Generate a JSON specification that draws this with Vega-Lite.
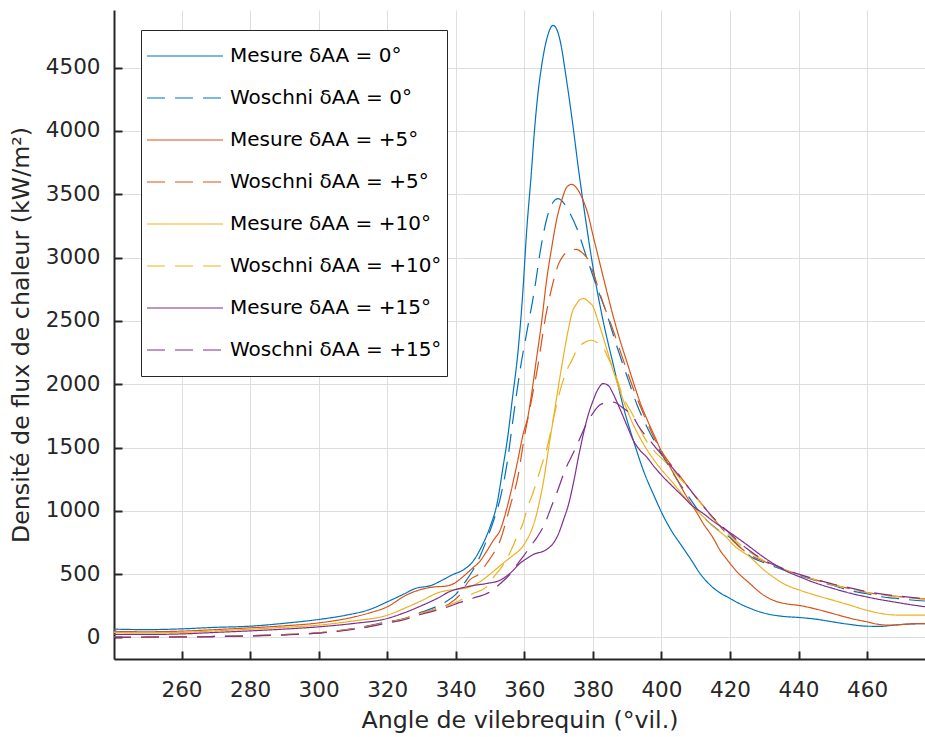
{
  "$schema": "https://vega.github.io/schema/vega-lite/v6.json",
  "autosize": {"type": "none"},
  "width": 811,
  "height": 649,
  "padding": {"left": 114, "top": 10, "right": 0, "bottom": 78},
  "background": "white",
  "config": {
    "view": {"stroke": null},
    "font": "DejaVu Sans",
    "legend": {"strokeWidth": 1}
  },
  "data": {
    "values": [
      {"serie":"M0","angle":240,"flux":66},{"serie":"M0","angle":250,"flux":62},{"serie":"M0","angle":260,"flux":68},{"serie":"M0","angle":270,"flux":80},{"serie":"M0","angle":280,"flux":89},{"serie":"M0","angle":290,"flux":112},{"serie":"M0","angle":300,"flux":142},{"serie":"M0","angle":308,"flux":176},{"serie":"M0","angle":315,"flux":222},{"serie":"M0","angle":320,"flux":281},{"serie":"M0","angle":325,"flux":345},{"serie":"M0","angle":328,"flux":385},{"serie":"M0","angle":333,"flux":413},{"serie":"M0","angle":336,"flux":452},{"serie":"M0","angle":339,"flux":495},{"serie":"M0","angle":342,"flux":531},{"serie":"M0","angle":345,"flux":600},{"serie":"M0","angle":347,"flux":689},{"serie":"M0","angle":350,"flux":873},{"serie":"M0","angle":352,"flux":1050},{"serie":"M0","angle":353.8,"flux":1347},{"serie":"M0","angle":355.3,"flux":1610},{"serie":"M0","angle":356.5,"flux":1880},{"serie":"M0","angle":358.2,"flux":2268},{"serie":"M0","angle":359.5,"flux":2700},{"serie":"M0","angle":360.7,"flux":3215},{"serie":"M0","angle":362,"flux":3650},{"serie":"M0","angle":362.9,"flux":3980},{"serie":"M0","angle":364,"flux":4300},{"serie":"M0","angle":365,"flux":4504},{"serie":"M0","angle":366.5,"flux":4720},{"serie":"M0","angle":368.4,"flux":4833},{"serie":"M0","angle":369.5,"flux":4800},{"serie":"M0","angle":370.7,"flux":4680},{"serie":"M0","angle":372,"flux":4460},{"serie":"M0","angle":374,"flux":4080},{"serie":"M0","angle":376,"flux":3660},{"serie":"M0","angle":378,"flux":3280},{"serie":"M0","angle":380,"flux":2930},{"serie":"M0","angle":383,"flux":2500},{"serie":"M0","angle":386,"flux":2150},{"serie":"M0","angle":389,"flux":1810},{"serie":"M0","angle":392,"flux":1540},{"serie":"M0","angle":395,"flux":1300},{"serie":"M0","angle":398,"flux":1110},{"serie":"M0","angle":400,"flux":990},{"serie":"M0","angle":403,"flux":840},{"serie":"M0","angle":406,"flux":720},{"serie":"M0","angle":409,"flux":600},{"serie":"M0","angle":411,"flux":515},{"serie":"M0","angle":415,"flux":395},{"serie":"M0","angle":420,"flux":308},{"serie":"M0","angle":425,"flux":240},{"serie":"M0","angle":430,"flux":192},{"serie":"M0","angle":435,"flux":168},{"serie":"M0","angle":440,"flux":158},{"serie":"M0","angle":445,"flux":145},{"serie":"M0","angle":450,"flux":123},{"serie":"M0","angle":455,"flux":103},{"serie":"M0","angle":460,"flux":89},{"serie":"M0","angle":464,"flux":88},{"serie":"M0","angle":468,"flux":98},{"serie":"M0","angle":472,"flux":106},{"serie":"M0","angle":477,"flux":110},

      {"serie":"W0","angle":240,"flux":0},{"serie":"W0","angle":250,"flux":2},{"serie":"W0","angle":260,"flux":5},{"serie":"W0","angle":270,"flux":8},{"serie":"W0","angle":280,"flux":13},{"serie":"W0","angle":290,"flux":22},{"serie":"W0","angle":300,"flux":37},{"serie":"W0","angle":310,"flux":70},{"serie":"W0","angle":320,"flux":123},{"serie":"W0","angle":325,"flux":150},{"serie":"W0","angle":330,"flux":200},{"serie":"W0","angle":334,"flux":240},{"serie":"W0","angle":337,"flux":280},{"serie":"W0","angle":340,"flux":340},{"serie":"W0","angle":342.7,"flux":437},{"serie":"W0","angle":345,"flux":531},{"serie":"W0","angle":347,"flux":636},{"serie":"W0","angle":349,"flux":768},{"serie":"W0","angle":351,"flux":920},{"serie":"W0","angle":353,"flux":1100},{"serie":"W0","angle":355,"flux":1380},{"serie":"W0","angle":357,"flux":1780},{"serie":"W0","angle":359,"flux":2150},{"serie":"W0","angle":361,"flux":2450},{"serie":"W0","angle":363,"flux":2750},{"serie":"W0","angle":364.6,"flux":3040},{"serie":"W0","angle":367,"flux":3350},{"serie":"W0","angle":368.4,"flux":3437},{"serie":"W0","angle":369.8,"flux":3465},{"serie":"W0","angle":371.8,"flux":3420},{"serie":"W0","angle":373.5,"flux":3340},{"serie":"W0","angle":375.2,"flux":3240},{"serie":"W0","angle":378.2,"flux":3000},{"serie":"W0","angle":381,"flux":2780},{"serie":"W0","angle":384,"flux":2560},{"serie":"W0","angle":387,"flux":2300},{"serie":"W0","angle":390,"flux":2060},{"serie":"W0","angle":393,"flux":1830},{"serie":"W0","angle":396,"flux":1650},{"serie":"W0","angle":399,"flux":1500},{"serie":"W0","angle":402,"flux":1360},{"serie":"W0","angle":405,"flux":1230},{"serie":"W0","angle":408,"flux":1110},{"serie":"W0","angle":412,"flux":960},{"serie":"W0","angle":416,"flux":860},{"serie":"W0","angle":420,"flux":790},{"serie":"W0","angle":426,"flux":640},{"serie":"W0","angle":430,"flux":590},{"serie":"W0","angle":435,"flux":540},{"serie":"W0","angle":440,"flux":492},{"serie":"W0","angle":445,"flux":450},{"serie":"W0","angle":450,"flux":412},{"serie":"W0","angle":455,"flux":370},{"serie":"W0","angle":460,"flux":345},{"serie":"W0","angle":464,"flux":322},{"serie":"W0","angle":468,"flux":310},{"serie":"W0","angle":473,"flux":296},{"serie":"W0","angle":477,"flux":288},

      {"serie":"M5","angle":240,"flux":48},{"serie":"M5","angle":250,"flux":45},{"serie":"M5","angle":260,"flux":50},{"serie":"M5","angle":270,"flux":62},{"serie":"M5","angle":280,"flux":76},{"serie":"M5","angle":290,"flux":92},{"serie":"M5","angle":300,"flux":115},{"serie":"M5","angle":310,"flux":160},{"serie":"M5","angle":315,"flux":195},{"serie":"M5","angle":320,"flux":242},{"serie":"M5","angle":325.5,"flux":334},{"serie":"M5","angle":330,"flux":380},{"serie":"M5","angle":334,"flux":400},{"serie":"M5","angle":337,"flux":405},{"serie":"M5","angle":340,"flux":435},{"serie":"M5","angle":342,"flux":478},{"serie":"M5","angle":345,"flux":550},{"serie":"M5","angle":347,"flux":600},{"serie":"M5","angle":349,"flux":680},{"serie":"M5","angle":351,"flux":768},{"serie":"M5","angle":353,"flux":850},{"serie":"M5","angle":355,"flux":1030},{"serie":"M5","angle":357.8,"flux":1360},{"serie":"M5","angle":359.7,"flux":1610},{"serie":"M5","angle":361.1,"flux":1750},{"serie":"M5","angle":362,"flux":1900},{"serie":"M5","angle":363.5,"flux":2190},{"serie":"M5","angle":365,"flux":2480},{"serie":"M5","angle":366.5,"flux":2820},{"serie":"M5","angle":368,"flux":3080},{"serie":"M5","angle":369.4,"flux":3294},{"serie":"M5","angle":371,"flux":3460},{"serie":"M5","angle":372.5,"flux":3560},{"serie":"M5","angle":373.8,"flux":3578},{"serie":"M5","angle":375.5,"flux":3540},{"serie":"M5","angle":377.2,"flux":3450},{"serie":"M5","angle":378.6,"flux":3340},{"serie":"M5","angle":380,"flux":3180},{"serie":"M5","angle":382,"flux":2960},{"serie":"M5","angle":384,"flux":2740},{"serie":"M5","angle":386,"flux":2530},{"serie":"M5","angle":388,"flux":2340},{"serie":"M5","angle":390,"flux":2170},{"serie":"M5","angle":392,"flux":2000},{"serie":"M5","angle":394,"flux":1840},{"serie":"M5","angle":396,"flux":1710},{"serie":"M5","angle":398,"flux":1590},{"serie":"M5","angle":400,"flux":1470},{"serie":"M5","angle":402.5,"flux":1347},{"serie":"M5","angle":405,"flux":1225},{"serie":"M5","angle":407.4,"flux":1110},{"serie":"M5","angle":410,"flux":1000},{"serie":"M5","angle":412.2,"flux":900},{"serie":"M5","angle":415,"flux":790},{"serie":"M5","angle":417.1,"flux":689},{"serie":"M5","angle":419,"flux":620},{"serie":"M5","angle":422,"flux":520},{"serie":"M5","angle":425.8,"flux":426},{"serie":"M5","angle":429,"flux":350},{"serie":"M5","angle":432.6,"flux":294},{"serie":"M5","angle":436,"flux":268},{"serie":"M5","angle":440.4,"flux":252},{"serie":"M5","angle":445,"flux":225},{"serie":"M5","angle":450,"flux":189},{"serie":"M5","angle":455,"flux":152},{"serie":"M5","angle":460,"flux":123},{"serie":"M5","angle":463,"flux":105},{"serie":"M5","angle":466.7,"flux":97},{"serie":"M5","angle":470,"flux":102},{"serie":"M5","angle":473,"flux":107},{"serie":"M5","angle":477,"flux":110},

      {"serie":"W5","angle":240,"flux":0},{"serie":"W5","angle":250,"flux":2},{"serie":"W5","angle":260,"flux":5},{"serie":"W5","angle":270,"flux":8},{"serie":"W5","angle":280,"flux":13},{"serie":"W5","angle":290,"flux":22},{"serie":"W5","angle":300,"flux":37},{"serie":"W5","angle":310,"flux":68},{"serie":"W5","angle":320,"flux":120},{"serie":"W5","angle":325,"flux":148},{"serie":"W5","angle":330,"flux":195},{"serie":"W5","angle":334,"flux":225},{"serie":"W5","angle":338,"flux":265},{"serie":"W5","angle":341,"flux":330},{"serie":"W5","angle":344,"flux":453},{"serie":"W5","angle":347,"flux":507},{"serie":"W5","angle":349,"flux":584},{"serie":"W5","angle":351,"flux":663},{"serie":"W5","angle":353,"flux":768},{"serie":"W5","angle":354.5,"flux":900},{"serie":"W5","angle":356,"flux":1050},{"serie":"W5","angle":358,"flux":1250},{"serie":"W5","angle":360,"flux":1580},{"serie":"W5","angle":362,"flux":1860},{"serie":"W5","angle":364,"flux":2150},{"serie":"W5","angle":366,"flux":2500},{"serie":"W5","angle":368,"flux":2760},{"serie":"W5","angle":370,"flux":2950},{"serie":"W5","angle":371.5,"flux":3020},{"serie":"W5","angle":373,"flux":3055},{"serie":"W5","angle":375.3,"flux":3065},{"serie":"W5","angle":377,"flux":3035},{"serie":"W5","angle":378.5,"flux":2990},{"serie":"W5","angle":380.1,"flux":2880},{"serie":"W5","angle":383,"flux":2640},{"serie":"W5","angle":386,"flux":2420},{"serie":"W5","angle":389,"flux":2180},{"serie":"W5","angle":392,"flux":1950},{"serie":"W5","angle":395,"flux":1750},{"serie":"W5","angle":398,"flux":1570},{"serie":"W5","angle":401,"flux":1430},{"serie":"W5","angle":405,"flux":1290},{"serie":"W5","angle":408,"flux":1180},{"serie":"W5","angle":411,"flux":1080},{"serie":"W5","angle":414,"flux":980},{"serie":"W5","angle":418,"flux":850},{"serie":"W5","angle":421,"flux":760},{"serie":"W5","angle":426,"flux":650},{"serie":"W5","angle":430,"flux":600},{"serie":"W5","angle":435,"flux":545},{"serie":"W5","angle":440,"flux":498},{"serie":"W5","angle":445,"flux":455},{"serie":"W5","angle":450,"flux":418},{"serie":"W5","angle":455,"flux":385},{"serie":"W5","angle":460,"flux":355},{"serie":"W5","angle":465,"flux":335},{"serie":"W5","angle":470,"flux":320},{"serie":"W5","angle":477,"flux":305},

      {"serie":"M10","angle":240,"flux":40},{"serie":"M10","angle":250,"flux":38},{"serie":"M10","angle":260,"flux":40},{"serie":"M10","angle":270,"flux":52},{"serie":"M10","angle":280,"flux":65},{"serie":"M10","angle":290,"flux":80},{"serie":"M10","angle":300,"flux":97},{"serie":"M10","angle":310,"flux":130},{"serie":"M10","angle":320,"flux":176},{"serie":"M10","angle":325,"flux":230},{"serie":"M10","angle":330,"flux":290},{"serie":"M10","angle":335,"flux":355},{"serie":"M10","angle":340,"flux":380},{"serie":"M10","angle":343,"flux":390},{"serie":"M10","angle":347,"flux":439},{"serie":"M10","angle":350,"flux":500},{"serie":"M10","angle":352,"flux":545},{"serie":"M10","angle":354,"flux":590},{"serie":"M10","angle":356.8,"flux":650},{"serie":"M10","angle":359,"flux":700},{"serie":"M10","angle":360.7,"flux":768},{"serie":"M10","angle":362,"flux":840},{"serie":"M10","angle":363.1,"flux":926},{"serie":"M10","angle":364.5,"flux":1080},{"serie":"M10","angle":365.5,"flux":1216},{"serie":"M10","angle":367,"flux":1478},{"serie":"M10","angle":368.4,"flux":1715},{"serie":"M10","angle":370.4,"flux":2057},{"serie":"M10","angle":372.8,"flux":2425},{"serie":"M10","angle":374,"flux":2570},{"serie":"M10","angle":375.3,"flux":2636},{"serie":"M10","angle":376.3,"flux":2670},{"serie":"M10","angle":377.4,"flux":2676},{"serie":"M10","angle":378.8,"flux":2650},{"serie":"M10","angle":380.1,"flux":2610},{"serie":"M10","angle":381.5,"flux":2500},{"serie":"M10","angle":383,"flux":2373},{"serie":"M10","angle":385.9,"flux":2110},{"serie":"M10","angle":388,"flux":1940},{"serie":"M10","angle":390.8,"flux":1741},{"serie":"M10","angle":394.7,"flux":1531},{"serie":"M10","angle":398.6,"flux":1373},{"serie":"M10","angle":403.5,"flux":1216},{"serie":"M10","angle":408.3,"flux":1058},{"serie":"M10","angle":412,"flux":960},{"serie":"M10","angle":415,"flux":880},{"serie":"M10","angle":419,"flux":790},{"serie":"M10","angle":421,"flux":730},{"serie":"M10","angle":425.8,"flux":636},{"serie":"M10","angle":429,"flux":555},{"serie":"M10","angle":432.6,"flux":478},{"serie":"M10","angle":436,"flux":420},{"serie":"M10","angle":440.4,"flux":373},{"serie":"M10","angle":445,"flux":333},{"serie":"M10","angle":450.1,"flux":294},{"serie":"M10","angle":455,"flux":255},{"serie":"M10","angle":459.9,"flux":215},{"serie":"M10","angle":464,"flux":190},{"serie":"M10","angle":467.6,"flux":178},{"serie":"M10","angle":472,"flux":176},{"serie":"M10","angle":477,"flux":176},

      {"serie":"W10","angle":240,"flux":0},{"serie":"W10","angle":250,"flux":2},{"serie":"W10","angle":260,"flux":5},{"serie":"W10","angle":270,"flux":8},{"serie":"W10","angle":280,"flux":13},{"serie":"W10","angle":290,"flux":22},{"serie":"W10","angle":300,"flux":36},{"serie":"W10","angle":310,"flux":66},{"serie":"W10","angle":320,"flux":118},{"serie":"W10","angle":325,"flux":146},{"serie":"W10","angle":330,"flux":192},{"serie":"W10","angle":334,"flux":222},{"serie":"W10","angle":338,"flux":255},{"serie":"W10","angle":341,"flux":290},{"serie":"W10","angle":345,"flux":347},{"serie":"W10","angle":349,"flux":400},{"serie":"W10","angle":351.4,"flux":490},{"serie":"W10","angle":353.5,"flux":560},{"serie":"W10","angle":356.4,"flux":702},{"serie":"W10","angle":358,"flux":805},{"serie":"W10","angle":359.6,"flux":900},{"serie":"W10","angle":361,"flux":1031},{"serie":"W10","angle":362.5,"flux":1139},{"serie":"W10","angle":364,"flux":1266},{"serie":"W10","angle":365.2,"flux":1373},{"serie":"W10","angle":366.7,"flux":1504},{"serie":"W10","angle":368.4,"flux":1715},{"serie":"W10","angle":370.2,"flux":1925},{"serie":"W10","angle":372.4,"flux":2110},{"serie":"W10","angle":373.9,"flux":2190},{"serie":"W10","angle":375.6,"flux":2283},{"serie":"W10","angle":377.7,"flux":2331},{"serie":"W10","angle":379.6,"flux":2347},{"serie":"W10","angle":381.5,"flux":2325},{"serie":"W10","angle":383,"flux":2290},{"serie":"W10","angle":384.4,"flux":2213},{"serie":"W10","angle":386.5,"flux":2084},{"serie":"W10","angle":388.8,"flux":1900},{"serie":"W10","angle":391,"flux":1790},{"serie":"W10","angle":393,"flux":1690},{"serie":"W10","angle":395.2,"flux":1570},{"serie":"W10","angle":398,"flux":1470},{"serie":"W10","angle":401,"flux":1390},{"serie":"W10","angle":405,"flux":1270},{"serie":"W10","angle":410,"flux":1110},{"serie":"W10","angle":415,"flux":940},{"serie":"W10","angle":420,"flux":805},{"serie":"W10","angle":425,"flux":690},{"serie":"W10","angle":430,"flux":605},{"serie":"W10","angle":435,"flux":545},{"serie":"W10","angle":440,"flux":495},{"serie":"W10","angle":445,"flux":455},{"serie":"W10","angle":450,"flux":415},{"serie":"W10","angle":455,"flux":385},{"serie":"W10","angle":460,"flux":355},{"serie":"W10","angle":465,"flux":335},{"serie":"W10","angle":470,"flux":320},{"serie":"W10","angle":477,"flux":300},

      {"serie":"M15","angle":240,"flux":25},{"serie":"M15","angle":250,"flux":24},{"serie":"M15","angle":260,"flux":28},{"serie":"M15","angle":270,"flux":40},{"serie":"M15","angle":280,"flux":52},{"serie":"M15","angle":290,"flux":66},{"serie":"M15","angle":300,"flux":84},{"serie":"M15","angle":310,"flux":110},{"serie":"M15","angle":320,"flux":150},{"serie":"M15","angle":325,"flux":195},{"serie":"M15","angle":329.5,"flux":245},{"serie":"M15","angle":335.4,"flux":320},{"serie":"M15","angle":338,"flux":360},{"serie":"M15","angle":341.2,"flux":387},{"serie":"M15","angle":345,"flux":410},{"serie":"M15","angle":349,"flux":426},{"serie":"M15","angle":352.9,"flux":452},{"serie":"M15","angle":356.8,"flux":531},{"serie":"M15","angle":358.5,"flux":580},{"serie":"M15","angle":360.7,"flux":623},{"serie":"M15","angle":363,"flux":660},{"serie":"M15","angle":365.5,"flux":680},{"serie":"M15","angle":367,"flux":705},{"serie":"M15","angle":368.4,"flux":742},{"serie":"M15","angle":370,"flux":820},{"serie":"M15","angle":371.4,"flux":926},{"serie":"M15","angle":373,"flux":1060},{"serie":"M15","angle":374.3,"flux":1216},{"serie":"M15","angle":376.2,"flux":1478},{"serie":"M15","angle":378.2,"flux":1715},{"serie":"M15","angle":380.1,"flux":1873},{"serie":"M15","angle":381.5,"flux":1960},{"serie":"M15","angle":383,"flux":2005},{"serie":"M15","angle":384.5,"flux":1990},{"serie":"M15","angle":385.9,"flux":1926},{"serie":"M15","angle":387.5,"flux":1830},{"serie":"M15","angle":388.9,"flux":1741},{"serie":"M15","angle":390.3,"flux":1650},{"serie":"M15","angle":391.8,"flux":1557},{"serie":"M15","angle":393.7,"flux":1480},{"serie":"M15","angle":395.7,"flux":1425},{"serie":"M15","angle":398,"flux":1345},{"serie":"M15","angle":400.5,"flux":1268},{"serie":"M15","angle":403,"flux":1200},{"serie":"M15","angle":406.4,"flux":1110},{"serie":"M15","angle":409,"flux":1040},{"serie":"M15","angle":412.2,"flux":979},{"serie":"M15","angle":415,"flux":920},{"serie":"M15","angle":418,"flux":865},{"serie":"M15","angle":422,"flux":790},{"serie":"M15","angle":425.8,"flux":715},{"serie":"M15","angle":429,"flux":650},{"serie":"M15","angle":432.6,"flux":584},{"serie":"M15","angle":436,"flux":530},{"serie":"M15","angle":440.4,"flux":478},{"serie":"M15","angle":445,"flux":430},{"serie":"M15","angle":450.1,"flux":387},{"serie":"M15","angle":455,"flux":350},{"serie":"M15","angle":459.9,"flux":320},{"serie":"M15","angle":464,"flux":298},{"serie":"M15","angle":468,"flux":280},{"serie":"M15","angle":472,"flux":262},{"serie":"M15","angle":477,"flux":242},

      {"serie":"W15","angle":240,"flux":0},{"serie":"W15","angle":250,"flux":2},{"serie":"W15","angle":260,"flux":4},{"serie":"W15","angle":270,"flux":7},{"serie":"W15","angle":280,"flux":12},{"serie":"W15","angle":290,"flux":20},{"serie":"W15","angle":300,"flux":34},{"serie":"W15","angle":310,"flux":63},{"serie":"W15","angle":320,"flux":113},{"serie":"W15","angle":325,"flux":140},{"serie":"W15","angle":330,"flux":183},{"serie":"W15","angle":334,"flux":212},{"serie":"W15","angle":338,"flux":245},{"serie":"W15","angle":341,"flux":275},{"serie":"W15","angle":345,"flux":310},{"serie":"W15","angle":350,"flux":360},{"serie":"W15","angle":353,"flux":426},{"serie":"W15","angle":356,"flux":505},{"serie":"W15","angle":358,"flux":580},{"serie":"W15","angle":359.6,"flux":636},{"serie":"W15","angle":361.6,"flux":713},{"serie":"W15","angle":363.7,"flux":790},{"serie":"W15","angle":366,"flux":900},{"serie":"W15","angle":368,"flux":1040},{"serie":"W15","angle":370,"flux":1180},{"serie":"W15","angle":372,"flux":1330},{"serie":"W15","angle":374,"flux":1440},{"serie":"W15","angle":376,"flux":1560},{"serie":"W15","angle":378.2,"flux":1689},{"serie":"W15","angle":380,"flux":1770},{"serie":"W15","angle":382,"flux":1835},{"serie":"W15","angle":384,"flux":1855},{"serie":"W15","angle":385.5,"flux":1860},{"serie":"W15","angle":387,"flux":1850},{"serie":"W15","angle":388.5,"flux":1818},{"serie":"W15","angle":390,"flux":1790},{"serie":"W15","angle":391.8,"flux":1741},{"serie":"W15","angle":393.3,"flux":1670},{"serie":"W15","angle":396.6,"flux":1557},{"serie":"W15","angle":399,"flux":1478},{"serie":"W15","angle":402,"flux":1380},{"serie":"W15","angle":406,"flux":1250},{"serie":"W15","angle":410,"flux":1110},{"serie":"W15","angle":415,"flux":950},{"serie":"W15","angle":420,"flux":820},{"serie":"W15","angle":425,"flux":700},{"serie":"W15","angle":430,"flux":610},{"serie":"W15","angle":435,"flux":550},{"serie":"W15","angle":440,"flux":500},{"serie":"W15","angle":445,"flux":460},{"serie":"W15","angle":450,"flux":422},{"serie":"W15","angle":455,"flux":392},{"serie":"W15","angle":460,"flux":362},{"serie":"W15","angle":465,"flux":340},{"serie":"W15","angle":470,"flux":325},{"serie":"W15","angle":477,"flux":305}
    ]
  },
  "mark": {"type": "line", "interpolate": "monotone", "strokeWidth": 1.2, "clip": true},
  "encoding": {
    "x": {
      "field": "angle", "type": "quantitative",
      "scale": {"domain": [240.3, 476.9], "nice": false, "zero": false},
      "axis": {
        "title": "Angle de vilebrequin (°vil.)",
        "values": [260, 280, 300, 320, 340, 360, 380, 400, 420, 440, 460],
        "format": "d",
        "tickSize": -8, "tickWidth": 2, "tickColor": "#262626",
        "domainColor": "#262626", "domainWidth": 2,
        "grid": true, "gridColor": "#dedede", "gridWidth": 1,
        "labelFont": "DejaVu Sans", "labelFontSize": 21.5, "labelColor": "#262626", "labelPadding": 28,
        "titleFont": "DejaVu Sans", "titleFontSize": 23.7, "titleFontWeight": "normal", "titleColor": "#262626", "titlePadding": 8
      }
    },
    "y": {
      "field": "flux", "type": "quantitative",
      "scale": {"domain": [-170, 4955], "nice": false, "zero": false},
      "axis": {
        "title": "Densité de flux de chaleur (kW/m²)",
        "values": [0, 500, 1000, 1500, 2000, 2500, 3000, 3500, 4000, 4500],
        "format": "d",
        "tickSize": -8, "tickWidth": 2, "tickColor": "#262626",
        "domainColor": "#262626", "domainWidth": 2,
        "grid": true, "gridColor": "#dedede", "gridWidth": 1,
        "labelFont": "DejaVu Sans", "labelFontSize": 21.5, "labelColor": "#262626", "labelPadding": 22,
        "titleFont": "DejaVu Sans", "titleFontSize": 23.7, "titleFontWeight": "normal", "titleColor": "#262626", "titlePadding": 12
      }
    },
    "color": {
      "field": "serie", "type": "nominal",
      "scale": {
        "domain": ["M0", "W0", "M5", "W5", "M10", "W10", "M15", "W15"],
        "range": ["#0072BD", "#0072BD", "#D95319", "#D95319", "#EDB120", "#EDB120", "#7E2F8E", "#7E2F8E"]
      },
      "legend": {
        "title": null, "orient": "none", "legendX": 27, "legendY": 20,
        "symbolType": "stroke", "symbolSize": 5776, "symbolStrokeWidth": 1.2,
        "labelFont": "DejaVu Sans", "labelFontSize": 20, "labelColor": "#000000", "labelOffset": 6, "labelLimit": 400,
        "clipHeight": 42, "rowPadding": 0, "padding": 5,
        "fillColor": "white", "strokeColor": "#262626",
        "labelExpr": "{'M0':'Mesure δAA = 0°','W0':'Woschni δAA = 0°','M5':'Mesure δAA = +5°','W5':'Woschni δAA = +5°','M10':'Mesure δAA = +10°','W10':'Woschni δAA = +10°','M15':'Mesure δAA = +15°','W15':'Woschni δAA = +15°'}[datum.value]"
      }
    },
    "strokeDash": {
      "field": "serie", "type": "nominal",
      "scale": {
        "domain": ["M0", "W0", "M5", "W5", "M10", "W10", "M15", "W15"],
        "range": [[1, 0], [18, 10], [1, 0], [18, 10], [1, 0], [18, 10], [1, 0], [18, 10]]
      },
      "legend": {
        "title": null, "orient": "none", "legendX": 27, "legendY": 20,
        "symbolType": "stroke", "symbolSize": 5776, "symbolStrokeWidth": 1.2,
        "labelFont": "DejaVu Sans", "labelFontSize": 20, "labelColor": "#000000", "labelOffset": 6, "labelLimit": 400,
        "clipHeight": 42, "rowPadding": 0, "padding": 5,
        "fillColor": "white", "strokeColor": "#262626",
        "labelExpr": "{'M0':'Mesure δAA = 0°','W0':'Woschni δAA = 0°','M5':'Mesure δAA = +5°','W5':'Woschni δAA = +5°','M10':'Mesure δAA = +10°','W10':'Woschni δAA = +10°','M15':'Mesure δAA = +15°','W15':'Woschni δAA = +15°'}[datum.value]"
      }
    }
  }
}
